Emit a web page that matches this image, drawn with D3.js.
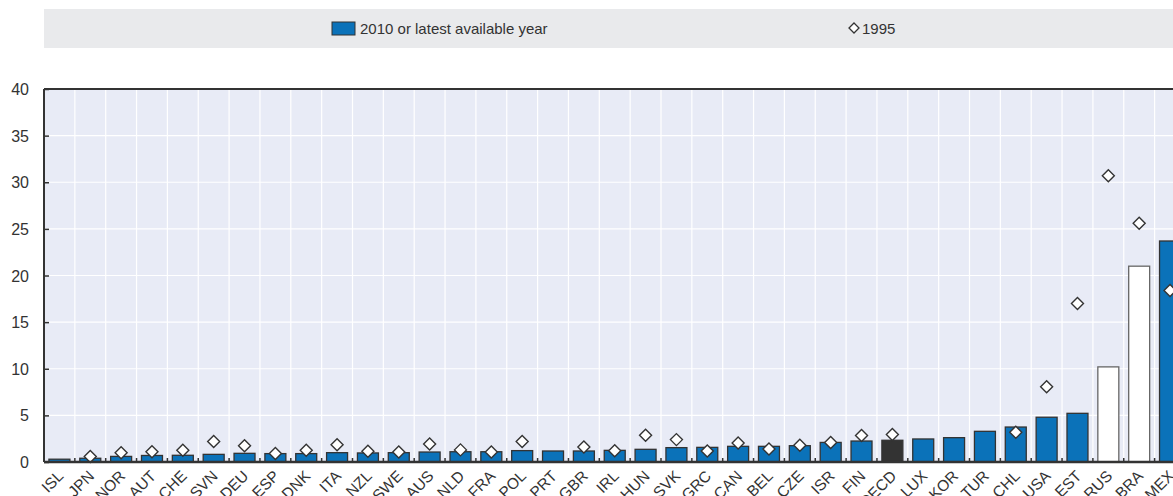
<!DOCTYPE html>
<html>
<head>
<meta charset="utf-8">
<script src="https://cdn.jsdelivr.net/npm/d3@7"></script>
<style>
  html, body { margin: 0; padding: 0; background: #fff; overflow: hidden; }
  svg { display: block; font-family: "Liberation Sans Narrow", "Arial Narrow", "Liberation Sans", sans-serif; }
</style>
</head>
<body>
<svg width="1173" height="496"></svg>
<script>
// countries, sorted by the latest value
const countries = ['ISL', 'JPN', 'NOR', 'AUT', 'CHE', 'SVN', 'DEU', 'ESP', 'DNK', 'ITA', 'NZL', 'SWE',
  'AUS', 'NLD', 'FRA', 'POL', 'PRT', 'GBR', 'IRL', 'HUN', 'SVK', 'GRC', 'CAN', 'BEL', 'CZE', 'ISR',
  'FIN', 'OECD', 'LUX', 'KOR', 'TUR', 'CHL', 'USA', 'EST', 'RUS', 'BRA', 'MEX'];

// 2010 or latest available year
const latest = [0.3, 0.4, 0.6, 0.7, 0.72, 0.82, 0.93, 0.9, 0.9, 1.0, 0.97, 1.0,
  1.07, 1.1, 1.1, 1.22, 1.18, 1.18, 1.25, 1.36, 1.54, 1.57, 1.68, 1.68, 1.75, 2.1,
  2.25, 2.33, 2.47, 2.61, 3.29, 3.75, 4.8, 5.22, 10.2, 21.0, 23.7];

// 1995 (null = not available)
const y1995 = [null, 0.6, 1.0, 1.1, 1.25, 2.2, 1.75, 0.9, 1.25, 1.86, 1.15, 1.07,
  1.93, 1.3, 1.07, 2.2, null, 1.6, 1.2, 2.86, 2.4, 1.18, 2.04, 1.4, 1.79, 2.1,
  2.83, 2.96, null, null, null, 3.18, 8.08, 17.0, 30.7, 25.6, 18.4];

const yTicks = [0, 5, 10, 15, 20, 25, 30, 35, 40];
const legendLabels = ['2010 or latest available year', '1995'];

const nonMembers = ['RUS', 'BRA'];
const average = 'OECD';

const svg = d3.select('svg');
const margin = { top: 89, left: 44, bottom: 34 };
const plotH = 496 - margin.top - margin.bottom;
const plotW = 30.85 * countries.length;

const x = d3.scaleBand()
  .domain(countries)
  .range([margin.left, margin.left + plotW])
  .paddingInner(0.32)
  .paddingOuter(0.16);

const y = d3.scaleLinear()
  .domain([0, 40])
  .range([margin.top + plotH, margin.top]);

const step = x.step();
const bandStart = (c) => x(c) - x.paddingOuter() * step;

// legend band
svg.append('rect')
  .attr('x', 44).attr('y', 9)
  .attr('width', 1200).attr('height', 39)
  .attr('fill', '#e9eaec');

svg.append('rect')
  .attr('x', 332).attr('y', 22)
  .attr('width', 23).attr('height', 13)
  .attr('fill', '#0b72b9')
  .attr('stroke', '#333').attr('stroke-width', 1);

svg.append('text')
  .attr('x', 360).attr('y', 34)
  .attr('font-size', 15)
  .attr('fill', '#333')
  .text(legendLabels[0]);

svg.append('path')
  .attr('d', 'M854,23 L859,28 L854,33 L849,28 Z')
  .attr('fill', '#fff')
  .attr('stroke', '#333').attr('stroke-width', 1.3);

svg.append('text')
  .attr('x', 862).attr('y', 34)
  .attr('font-size', 15)
  .attr('fill', '#333')
  .text(legendLabels[1]);

// plot background
svg.append('rect')
  .attr('x', margin.left).attr('y', margin.top)
  .attr('width', plotW).attr('height', plotH)
  .attr('fill', '#e8ebf6');

// horizontal grid
svg.append('g')
  .selectAll('line')
  .data(yTicks)
  .join('line')
  .attr('x1', margin.left).attr('x2', margin.left + plotW)
  .attr('y1', (d) => y(d)).attr('y2', (d) => y(d))
  .attr('stroke', '#fff').attr('stroke-width', 1.2);

// vertical grid at band boundaries
svg.append('g')
  .selectAll('line')
  .data(countries.slice(1))
  .join('line')
  .attr('x1', (d) => bandStart(d)).attr('x2', (d) => bandStart(d))
  .attr('y1', margin.top).attr('y2', margin.top + plotH)
  .attr('stroke', '#fff').attr('stroke-width', 1.2);

// bars
const rows = countries.map((c, i) => ({ c, v: latest[i], o: y1995[i] }));

svg.append('g')
  .selectAll('rect')
  .data(rows)
  .join('rect')
  .attr('x', (d) => x(d.c))
  .attr('y', (d) => y(d.v))
  .attr('width', x.bandwidth())
  .attr('height', (d) => y(0) - y(d.v))
  .attr('fill', (d) => d.c === average ? '#333333' : nonMembers.includes(d.c) ? '#ffffff' : '#0b72b9')
  .attr('stroke', (d) => nonMembers.includes(d.c) ? '#666' : '#333')
  .attr('stroke-width', 1.3);

// 1995 diamonds
svg.append('g')
  .selectAll('path')
  .data(rows.filter((d) => d.o !== null))
  .join('path')
  .attr('transform', (d) => `translate(${x(d.c) + x.bandwidth() / 2},${y(d.o)})`)
  .attr('d', 'M0,-6 L6,0 L0,6 L-6,0 Z')
  .attr('fill', '#fff')
  .attr('stroke', '#333').attr('stroke-width', 1.4);

// frame: left and top
svg.append('line')
  .attr('x1', margin.left).attr('x2', margin.left)
  .attr('y1', margin.top).attr('y2', margin.top + plotH)
  .attr('stroke', '#333').attr('stroke-width', 2);
svg.append('line')
  .attr('x1', margin.left).attr('x2', margin.left + plotW)
  .attr('y1', margin.top).attr('y2', margin.top)
  .attr('stroke', '#333').attr('stroke-width', 2);

// y axis
const yAxis = svg.append('g')
  .attr('transform', `translate(${margin.left},0)`)
  .call(d3.axisRight(y).tickValues(yTicks).tickSize(5).tickFormat(''));
yAxis.select('.domain').remove();
yAxis.selectAll('line').attr('stroke', '#333').attr('stroke-width', 1.5);

svg.append('g')
  .selectAll('text')
  .data(yTicks)
  .join('text')
  .attr('x', 29)
  .attr('y', (d) => y(d) + 6)
  .attr('text-anchor', 'end')
  .attr('font-size', 16)
  .attr('fill', '#333')
  .text((d) => d);

// x axis
svg.append('line')
  .attr('x1', margin.left).attr('x2', margin.left + plotW)
  .attr('y1', y(0)).attr('y2', y(0))
  .attr('stroke', '#333').attr('stroke-width', 2.5);

svg.append('g')
  .selectAll('line')
  .data(countries.slice(1))
  .join('line')
  .attr('x1', (d) => bandStart(d)).attr('x2', (d) => bandStart(d))
  .attr('y1', y(0)).attr('y2', y(0) - 4)
  .attr('stroke', '#333').attr('stroke-width', 1.5);

svg.append('g')
  .selectAll('text')
  .data(countries)
  .join('text')
  .attr('transform', (d) => `translate(${x(d) + x.bandwidth() / 2 + 5},${y(0) + 15}) rotate(-45)`)
  .attr('text-anchor', 'end')
  .attr('font-size', 15.5)
  .attr('fill', '#333')
  .text((d) => d);
</script>
</body>
</html>
